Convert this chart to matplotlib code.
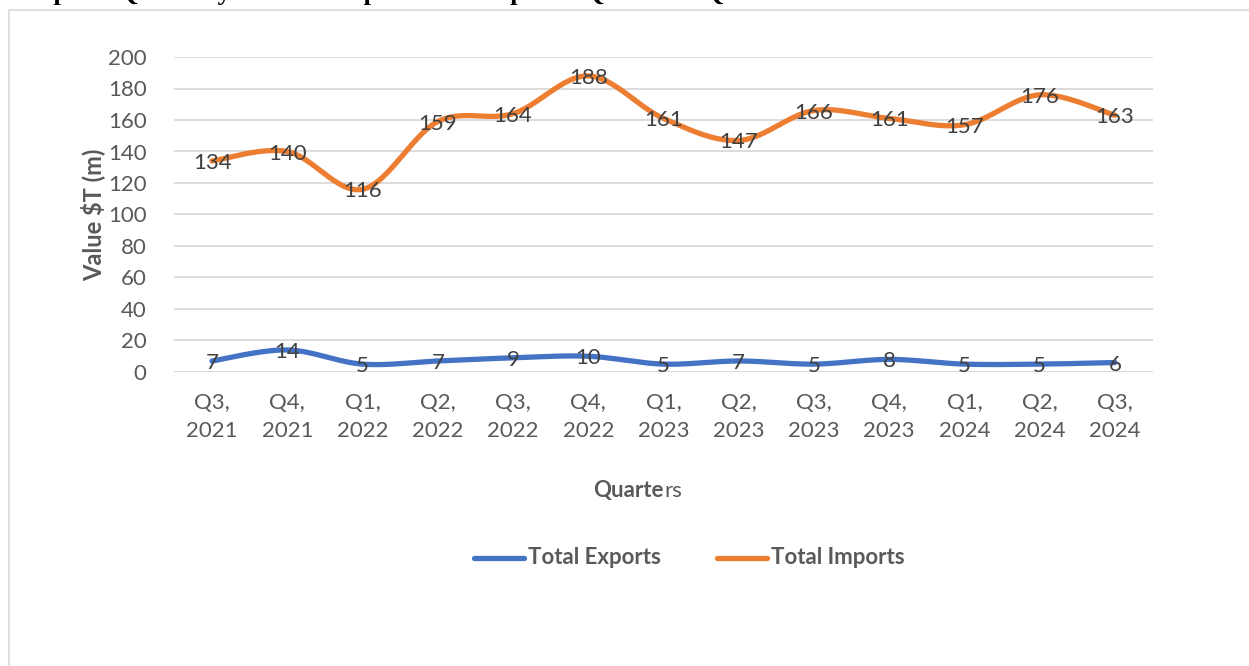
import numpy as np
import matplotlib
matplotlib.use("Agg")
from matplotlib import pyplot as plt
from matplotlib.patches import Rectangle
from matplotlib.lines import Line2D

quarters = ["Q3,\n2021", "Q4,\n2021", "Q1,\n2022", "Q2,\n2022", "Q3,\n2022", "Q4,\n2022",
            "Q1,\n2023", "Q2,\n2023", "Q3,\n2023", "Q4,\n2023", "Q1,\n2024", "Q2,\n2024",
            "Q3,\n2024"]
exports = [7, 14, 5, 7, 9, 10, 5, 7, 5, 8, 5, 5, 6]
imports = [134, 140, 116, 159, 164, 188, 161, 147, 166, 161, 157, 176, 163]
yticks = [0, 20, 40, 60, 80, 100, 120, 140, 160, 180, 200]

W, H = 1249, 666
TXT = "#595959"
LBL = "#404040"
FS = 16
plt.rcParams["font.family"] = ["Lato", "DejaVu Sans"]


def smooth(values, n=30):
    """Excel-style smoothed line: cubic bezier through points."""
    p = np.column_stack([np.arange(len(values), dtype=float), np.asarray(values, float)])
    pts = np.vstack([p[0], p, p[-1]])
    out = []
    t = np.linspace(0, 1, n)[:, None]
    for i in range(1, len(pts) - 2):
        p0, p3 = pts[i], pts[i + 1]
        c1 = p0 + (pts[i + 1] - pts[i - 1]) / 6
        c2 = p3 - (pts[i + 2] - pts[i]) / 6
        seg = (1 - t) ** 3 * p0 + 3 * (1 - t) ** 2 * t * c1 + 3 * (1 - t) * t ** 2 * c2 + t ** 3 * p3
        out.append(seg if i == 1 else seg[1:])
    out = np.vstack(out)
    return out[:, 0], out[:, 1]


fig = plt.figure(figsize=(W / 100, H / 100), dpi=100)

# chart border (clipped at right/bottom like the source)
fig.patches.append(Rectangle((9 / W, -0.1), 1.2, 1 - 10 / H + 0.1, transform=fig.transFigure,
                             fill=False, edgecolor="#D9D9D9", linewidth=1.2))

# title, cropped at the top edge as in the source page
fig.text(8 / W, 1.0, "Graph 1: Quarterly value of Exports and Imports: Q3 2021 \u2013 Q3 2024",
         family="Liberation Serif", weight="bold", fontsize=19, va="baseline", ha="left")

left, right = 174.4, 1152.6
top, bottom = 57, 372
ax = fig.add_axes([left / W, 1 - bottom / H, (right - left) / W, (bottom - top) / H])
ax.set_xlim(-0.5, len(quarters) - 0.5)
ax.set_ylim(0, 200)
for s in ax.spines.values():
    s.set_visible(False)
ax.set_yticks(yticks)
ax.yaxis.grid(True, color="#D9D9D9", linewidth=1.3)
ax.set_axisbelow(True)
ax.tick_params(axis="both", length=0, labelsize=FS, labelcolor=TXT)
ax.tick_params(axis="y", pad=20)
ax.tick_params(axis="x", pad=15)
ax.set_xticks(range(len(quarters)))
ax.set_xticklabels(quarters, linespacing=1.5)
ax.axhline(0, color="#D9D9D9", linewidth=1.3, zorder=1)

xs, ys = smooth(exports)
ax.plot(xs, ys, color="#4472C4", linewidth=3.8, solid_capstyle="round", zorder=3, clip_on=False)
xs, ys = smooth(imports)
ax.plot(xs, ys, color="#ED7D31", linewidth=3.8, solid_capstyle="round", zorder=3, clip_on=False)

for i, v in enumerate(exports):
    ax.annotate(str(v), (i, v), xytext=(0, -2), textcoords="offset pixels", ha="center",
                va="center", fontsize=FS, color=LBL, zorder=4)
for i, v in enumerate(imports):
    ax.annotate(str(v), (i, v), xytext=(0, -2), textcoords="offset pixels", ha="center",
                va="center", fontsize=FS, color=LBL, zorder=4)

fig.text(93 / W, 1 - 215 / H, "Value $T (m)", rotation=90, ha="center", va="center",
         fontsize=FS + 1, weight="bold", color=TXT)

# x axis title: "Quarte" bold + "rs" regular
fig.text(664 / W, 1 - 491 / H, "Quarte", ha="right", va="center", fontsize=FS,
         weight="bold", color=TXT)
fig.text(664 / W, 1 - 491 / H, "rs", ha="left", va="center", fontsize=FS, color=TXT)

# legend
ly = 1 - 558 / H
fig.lines.append(Line2D([474 / W, 524 / W], [ly, ly], transform=fig.transFigure,
                        color="#4472C4", linewidth=3.8, solid_capstyle="round"))
fig.text(528 / W, ly, "Total Exports", ha="left", va="center", fontsize=FS,
         weight="bold", color=TXT)
fig.lines.append(Line2D([717 / W, 767 / W], [ly, ly], transform=fig.transFigure,
                        color="#ED7D31", linewidth=3.8, solid_capstyle="round"))
fig.text(771 / W, ly, "Total Imports", ha="left", va="center", fontsize=FS,
         weight="bold", color=TXT)

fig.savefig("out.png", dpi=100)
